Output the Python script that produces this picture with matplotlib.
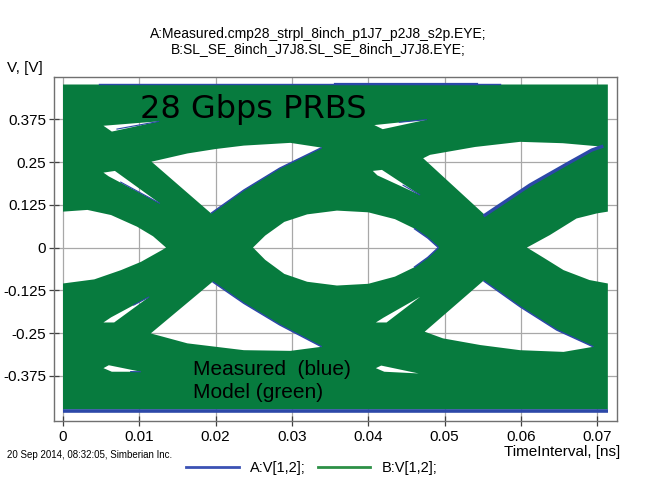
import numpy as np
import matplotlib
matplotlib.use("Agg")
import matplotlib.pyplot as plt
from matplotlib.path import Path
from matplotlib.patches import PathPatch
from matplotlib.lines import Line2D

# eye diagram contours (time in ns, voltage in V)
T_END = 0.0714
V_TOP = 0.4766
V_BOT = -0.473

# left partial eye (x = 0 edge to crossing)
left_t_top = [0.0, 0.0032, 0.0063, 0.0097, 0.0118, 0.0135]
left_v_top = [0.105, 0.110, 0.095, 0.061, 0.033, 0.0]
left_t_bot = [0.0, 0.0041, 0.0076, 0.0102, 0.0130, 0.0135]
left_v_bot = [-0.105, -0.093, -0.066, -0.042, -0.007, 0.0]

# centre eye
centre_t = [0.0249, 0.0265, 0.0290, 0.0320, 0.0359, 0.0400, 0.0435, 0.0460, 0.0478, 0.0492]
centre_v_top = [0.0, 0.035, 0.075, 0.097, 0.108, 0.103, 0.083, 0.056, 0.028, 0.0]
centre_v_bot = [0.0, -0.036, -0.077, -0.100, -0.111, -0.106, -0.085, -0.058, -0.029, 0.0]

# right partial eye (crossing to right edge)
right_t_top = [0.0608, 0.0638, 0.0673, 0.0700, 0.0714]
right_v_top = [0.0, 0.0365, 0.085, 0.100, 0.105]
right_t_bot = [0.0608, 0.0630, 0.0656, 0.0690, 0.0714]
right_v_bot = [0.0, -0.030, -0.066, -0.095, -0.105]

# open areas between rails and transitions
upper1_t = [0.0116, 0.0163, 0.0200, 0.0237, 0.0298, 0.0339, 0.0284, 0.0237, 0.0194]
upper1_v = [0.251, 0.275, 0.288, 0.298, 0.306, 0.292, 0.232, 0.168, 0.100]
upper2_t = [0.0472, 0.0481, 0.0540, 0.0599, 0.0655, 0.0706, 0.0693, 0.0664, 0.0612, 0.0553]
upper2_v = [0.261, 0.271, 0.294, 0.309, 0.305, 0.295, 0.285, 0.249, 0.183, 0.095]
lower1_t = [0.0115, 0.0196, 0.0237, 0.0284, 0.0339, 0.0298, 0.0237, 0.0163]
lower1_v = [-0.251, -0.100, -0.163, -0.226, -0.290, -0.302, -0.300, -0.280]
lower2_t = [0.0474, 0.0551, 0.0599, 0.0647, 0.0695, 0.0656, 0.0599, 0.0547, 0.0498]
lower2_v = [-0.246, -0.097, -0.173, -0.241, -0.290, -0.305, -0.300, -0.285, -0.2655]

# thin slivers
sliver_t = [
    [0.0053, 0.0126, 0.0064],
    [0.0053, 0.0068, 0.0127, 0.0060],
    [0.0408, 0.0477, 0.0419],
    [0.0406, 0.0418, 0.0468, 0.0412],
    [0.0053, 0.0063, 0.0113, 0.0067],
    [0.0053, 0.0060, 0.0102, 0.0064],
    [0.0410, 0.0420, 0.0468, 0.0424],
    [0.0410, 0.0417, 0.0466, 0.0421],
]
sliver_v = [
    [0.356, 0.369, 0.339],
    [0.219, 0.224, 0.129, 0.208],
    [0.358, 0.374, 0.346],
    [0.224, 0.227, 0.1535, 0.211],
    [-0.219, -0.204, -0.144, -0.219],
    [-0.3525, -0.344, -0.363, -0.363],
    [-0.219, -0.205, -0.144, -0.219],
    [-0.3525, -0.345, -0.368, -0.363],
]

# measured trace (A) showing at the edges
blue_t = [
    [0.0194, 0.0237, 0.0284, 0.0339],
    [0.0196, 0.0237, 0.0284, 0.0339],
    [0.0551, 0.0599, 0.0647, 0.0695],
    [0.0460, 0.0478, 0.0492],
    [0.0460, 0.0478, 0.0492],
]
blue_v = [
    [0.100, 0.168, 0.232, 0.292],
    [-0.100, -0.163, -0.226, -0.290],
    [-0.097, -0.173, -0.241, -0.290],
    [0.056, 0.028, 0.0],
    [-0.058, -0.029, 0.0],
]
blue_thin_t = [[0.0070, 0.0126], [0.0075, 0.0127], [0.0440, 0.0477],
               [0.0445, 0.0468], [0.0092, 0.0113], [0.0088, 0.0102]]
blue_thin_v = [[0.346, 0.369], [0.192, 0.129], [0.366, 0.374],
               [0.183, 0.1535], [-0.169, -0.144], [-0.3625, -0.363]]
blue_thick_t = [0.0553, 0.0612, 0.0664, 0.0693, 0.0706]
blue_thick_v = [0.095, 0.183, 0.249, 0.285, 0.295]

x_ticks = [0, 0.01, 0.02, 0.03, 0.04, 0.05, 0.06, 0.07]
x_labels = ["0", "0.01", "0.02", "0.03", "0.04", "0.05", "0.06", "0.07"]
y_ticks = [0.375, 0.25, 0.125, 0, -0.125, -0.25, -0.375]
y_labels = ["0.375", "0.25", "0.125", "0", "-0.125", "-0.25", "-0.375"]

GREEN = "#077b3e"
BLUE = "#2c48a8"
NARROW = ["Liberation Sans Narrow", "Liberation Sans", "DejaVu Sans"]

plt.rcParams["font.family"] = NARROW


def ring(t, v, ccw):
    pts = np.column_stack([t, v]).astype(float)
    area = 0.5 * np.sum(pts[:, 0] * np.roll(pts[:, 1], -1) - np.roll(pts[:, 0], -1) * pts[:, 1])
    if (area > 0) != ccw:
        pts = pts[::-1]
    return pts


# outer boundary with the two partial eyes cut into its sides
out_t = ([0.0, T_END] + right_t_bot[::-1] + right_t_top + [T_END, 0.0]
         + left_t_top + left_t_bot[::-1])
out_v = ([V_BOT, V_BOT] + right_v_bot[::-1] + right_v_top + [V_TOP, V_TOP]
         + left_v_top + left_v_bot[::-1])

rings = [ring(out_t, out_v, True)]
rings.append(ring(centre_t + centre_t[::-1], centre_v_top + centre_v_bot[::-1], False))
for t, v in [(upper1_t, upper1_v), (upper2_t, upper2_v), (lower1_t, lower1_v), (lower2_t, lower2_v)]:
    rings.append(ring(t, v, False))
for t, v in zip(sliver_t, sliver_v):
    rings.append(ring(t, v, False))

verts, codes = [], []
for r in rings:
    verts.extend(r.tolist())
    verts.append(r[0].tolist())
    codes.extend([Path.MOVETO] + [Path.LINETO] * (len(r) - 1) + [Path.CLOSEPOLY])

fig = plt.figure(figsize=(6.57, 4.88), dpi=100)
ax = fig.add_axes([54 / 657, 1 - 421 / 488, 563 / 657, 344.3 / 488])
ax.set_xlim(-0.00118, 0.0726)
ax.set_ylim(-0.507, 0.4994)

ax.grid(True, color="#a8a8a8", linewidth=0.9, zorder=0)
ax.set_axisbelow(True)
ax.add_patch(PathPatch(Path(verts, codes), facecolor=GREEN, edgecolor="none", zorder=2))

for t, v in zip(blue_t, blue_v):
    ax.plot(t, v, color=BLUE, linewidth=1.1, zorder=3, solid_capstyle="butt")
for t, v in zip(blue_thin_t, blue_thin_v):
    ax.plot(t, v, color=BLUE, linewidth=0.8, zorder=3, solid_capstyle="butt")
ax.plot(blue_thick_t, blue_thick_v, color=BLUE, linewidth=2.4, zorder=3)
ax.plot([0.0047, 0.0573], [0.478, 0.478], color=BLUE, linewidth=1.0, zorder=3)
ax.plot([0.0357, 0.0543], [0.478, 0.478], color=BLUE, linewidth=1.6, zorder=3)
ax.plot([0.0, T_END], [-0.4785, -0.4785], color=BLUE, linewidth=2.6, zorder=3,
        solid_capstyle="butt")

ax.set_xticks(x_ticks)
ax.set_xticklabels(x_labels)
ax.set_yticks(y_ticks)
ax.set_yticklabels(y_labels)
ax.tick_params(axis="both", direction="inout", length=7, width=0.9, color="#404040",
               labelsize=11, labelcolor="black")
ax.tick_params(axis="x", pad=3)
ax.tick_params(axis="y", pad=2)
for s in ax.spines.values():
    s.set_color("#707070")
    s.set_linewidth(1.0)

ax.text(0.0101, 0.3795, "28 Gbps PRBS", fontsize=23, family="DejaVu Sans",
        va="baseline", ha="left", zorder=5)
ax.text(0.0171, -0.3728, "Measured  (blue)", fontsize=15, family="Liberation Sans",
        va="baseline", ha="left", zorder=5)
ax.text(0.0171, -0.441, "Model (green)", fontsize=15, family="Liberation Sans",
        va="baseline", ha="left", zorder=5)

fig.text(318 / 657, 1 - 34 / 488, "A:Measured.cmp28_strpl_8inch_p1J7_p2J8_s2p.EYE;",
         ha="center", va="center", fontsize=10)
fig.text(318 / 657, 1 - 49 / 488, "B:SL_SE_8inch_J7J8.SL_SE_8inch_J7J8.EYE;",
         ha="center", va="center", fontsize=10)
fig.text(7 / 657, 1 - 68 / 488, "V, [V]", ha="left", va="center", fontsize=11)
fig.text(620 / 657, 1 - 452 / 488, "TimeInterval, [ns]", ha="right", va="center", fontsize=11)
fig.text(7 / 657, 1 - 455 / 488, "20 Sep 2014, 08:32:05, Simberian Inc.",
         ha="left", va="center", fontsize=7)

handles = [Line2D([], [], color="#3b52b4", linewidth=2.0),
           Line2D([], [], color="#2d9046", linewidth=2.0)]
fig.legend(handles, ["A:V[1,2];", "B:V[1,2];"], ncol=2, frameon=False, loc="center",
           bbox_to_anchor=(312 / 657, 1 - 468 / 488), handlelength=3.6,
           handletextpad=0.8, columnspacing=0.8, prop={"size": 10.5, "family": NARROW})

fig.savefig("out.png", dpi=100)
